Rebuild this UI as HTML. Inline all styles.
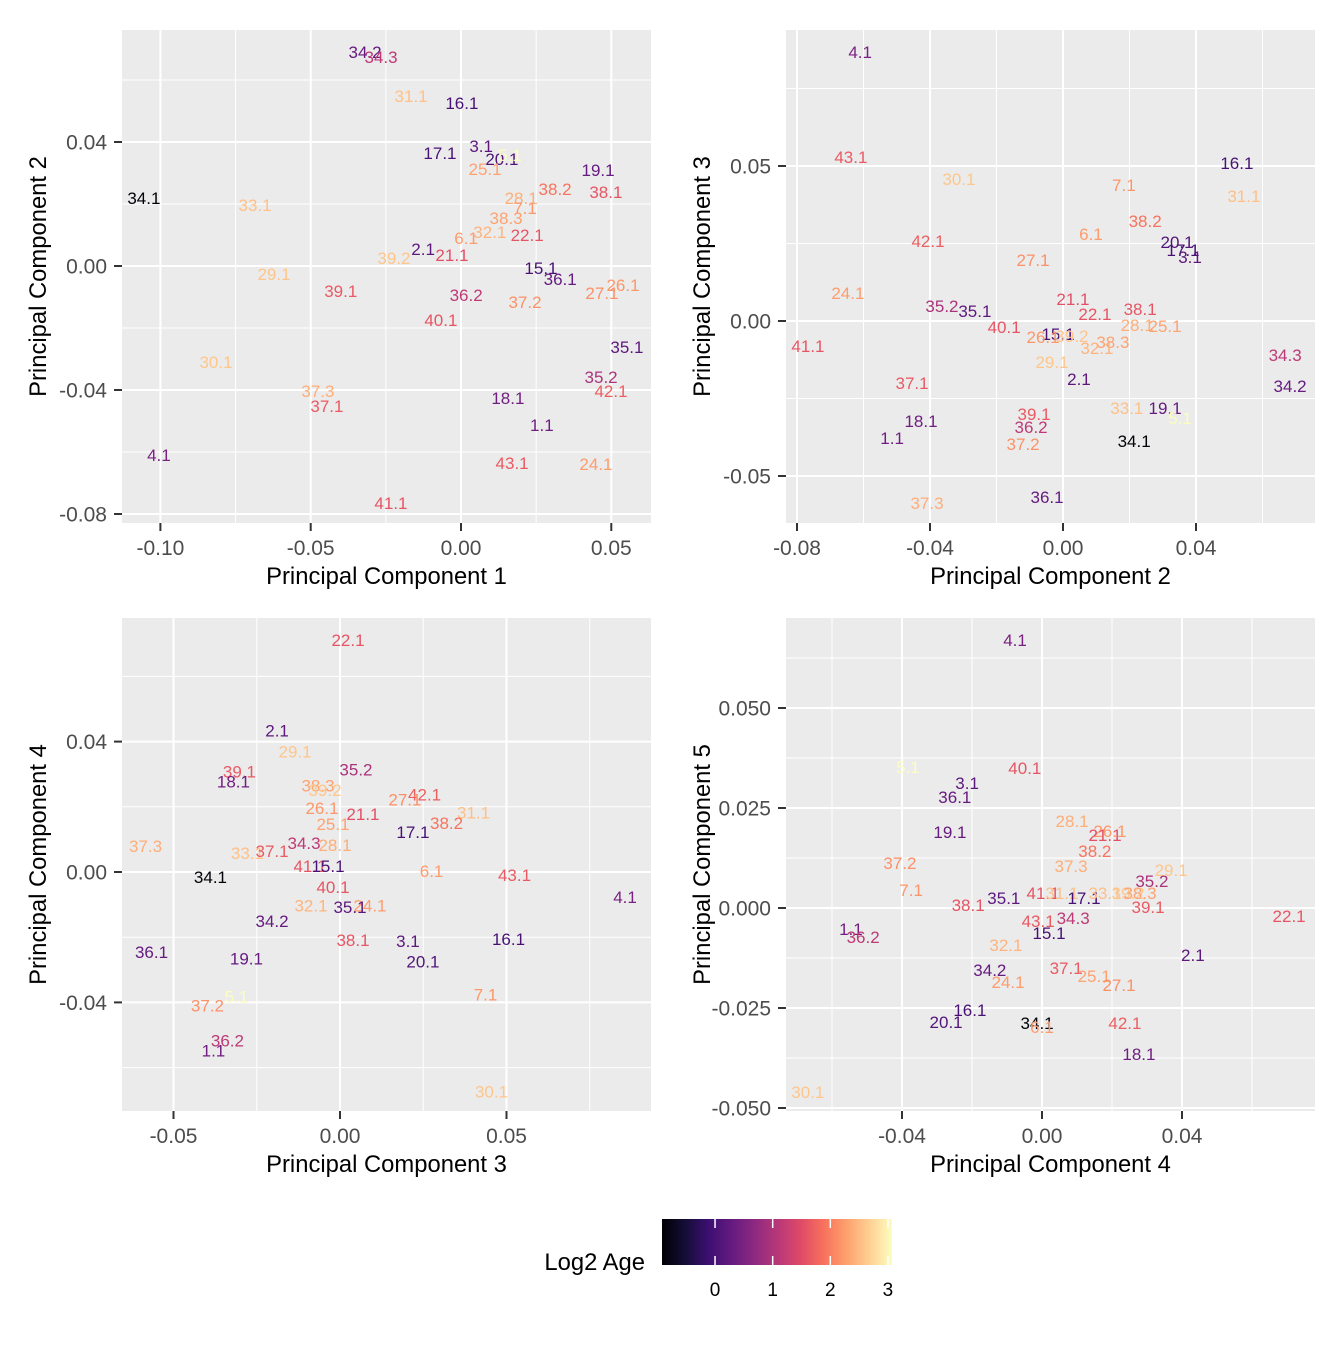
<!DOCTYPE html>
<html><head><meta charset="utf-8"><style>
body{margin:0;background:#fff;}
svg text{font-family:"Liberation Sans",Arial,sans-serif;}
</style></head><body>
<svg id="chart" width="1344" height="1344" xmlns="http://www.w3.org/2000/svg"></svg>
<script>
// ages (log2) per sample label
const ageLabels=["34.1","34.2","16.1","17.1","3.1","20.1","19.1","2.1","15.1","36.1","35.1","18.1","1.1","4.1","35.2","36.2","34.3","21.1","22.1","38.1","40.1","43.1","41.1","39.1","37.1","42.1","38.2","37.2","27.1","26.1","24.1","7.1","6.1","38.3","32.1","28.1","25.1","37.3","33.1","31.1","30.1","29.1","39.2","5.1"];
const ageValues=[-0.9,0.3,0.0,0.0,0.2,0.1,0.3,0.2,0.0,0.3,0.2,0.4,0.4,0.5,0.95,1.15,1.15,1.55,1.6,1.6,1.6,1.65,1.6,1.65,1.65,1.7,1.9,2.15,2.15,2.2,2.25,2.2,2.25,2.3,2.45,2.4,2.3,2.4,2.55,2.55,2.6,2.6,2.6,3.1];

// Panel 1: PC1 vs PC2
const p1Labels=["34.2","34.3","31.1","16.1","3.1","17.1","20.1","5.1","25.1","19.1","34.1","33.1","28.1","38.2","38.1","7.1","38.3","32.1","22.1","6.1","2.1","21.1","39.2","15.1","36.1","29.1","39.1","26.1","27.1","36.2","37.2","40.1","35.1","30.1","35.2","37.3","42.1","18.1","37.1","1.1","4.1","43.1","24.1","41.1"];
const p1X=[-0.0319,-0.0266,-0.0166,0.0003,0.0067,-0.007,0.0136,0.0163,0.008,0.0456,-0.1055,-0.0685,0.02,0.0313,0.0482,0.0213,0.015,0.0096,0.022,0.0017,-0.0126,-0.003,-0.0223,0.0266,0.033,-0.0622,-0.04,0.0539,0.0469,0.0017,0.0213,-0.0067,0.0552,-0.0815,0.0466,-0.0476,0.0499,0.0156,-0.0446,0.0269,-0.1005,0.017,0.0449,-0.0233];
const p1Y=[0.069,0.0674,0.0548,0.0526,0.0387,0.0365,0.0345,0.0358,0.0313,0.031,0.0219,0.0197,0.0219,0.0248,0.0239,0.0187,0.0155,0.011,0.01,0.009,0.0055,0.0035,0.0026,-0.0006,-0.0042,-0.0026,-0.0081,-0.0061,-0.0087,-0.0094,-0.0116,-0.0174,-0.0261,-0.031,-0.0358,-0.0403,-0.0403,-0.0426,-0.0452,-0.0513,-0.061,-0.0635,-0.0639,-0.0765];

// Panel 2: PC2 vs PC3
const p2Labels=["4.1","43.1","16.1","30.1","7.1","31.1","38.2","6.1","42.1","20.1","17.1","3.1","27.1","24.1","21.1","35.2","35.1","38.1","22.1","28.1","25.1","40.1","15.1","26.1","39.2","38.3","32.1","41.1","34.3","29.1","2.1","37.1","34.2","33.1","19.1","5.1","39.1","18.1","36.2","1.1","34.1","37.2","36.1","37.3"];
const p2X=[-0.061,-0.0638,0.0523,-0.0313,0.0183,0.0544,0.0247,0.0084,-0.0406,0.0343,0.0361,0.0382,-0.009,-0.0647,0.003,-0.0364,-0.0265,0.0232,0.0096,0.0223,0.0307,-0.0177,-0.0015,-0.006,0.0027,0.015,0.0102,-0.0767,0.0668,-0.0033,0.0048,-0.0454,0.0683,0.0192,0.0307,0.0352,-0.0087,-0.0427,-0.0096,-0.0514,0.0214,-0.012,-0.0048,-0.0409];
const p2Y=[0.0868,0.0529,0.051,0.0458,0.0439,0.0403,0.0323,0.0281,0.0258,0.0255,0.0229,0.0206,0.0197,0.009,0.0071,0.0048,0.0032,0.0039,0.0023,-0.0013,-0.0016,-0.0019,-0.0042,-0.0052,-0.0048,-0.0068,-0.0087,-0.0081,-0.011,-0.0132,-0.0187,-0.02,-0.021,-0.0281,-0.0281,-0.0313,-0.03,-0.0323,-0.0342,-0.0377,-0.0387,-0.0397,-0.0568,-0.0587];

// Panel 3: PC3 vs PC4
const p3Labels=["22.1","2.1","29.1","35.2","39.1","18.1","38.3","39.2","42.1","27.1","26.1","31.1","21.1","38.2","25.1","17.1","28.1","37.3","34.3","33.1","37.1","41.1","15.1","6.1","43.1","34.1","40.1","4.1","32.1","24.1","35.1","34.2","38.1","3.1","16.1","36.1","19.1","20.1","5.1","7.1","37.2","36.2","1.1","30.1"];
const p3X=[0.0024,-0.0189,-0.0135,0.0048,-0.0302,-0.032,-0.0066,-0.0045,0.0254,0.0195,-0.0054,0.0401,0.0069,0.032,-0.0021,0.0219,-0.0015,-0.0584,-0.0108,-0.0278,-0.0204,-0.009,-0.0036,0.0275,0.0524,-0.0389,-0.0021,0.0856,-0.0087,0.009,0.003,-0.0204,0.0039,0.0204,0.0506,-0.0566,-0.0281,0.0249,-0.0311,0.0437,-0.0398,-0.0338,-0.038,0.0455];
const p3Y=[0.0711,0.0434,0.0369,0.0314,0.0308,0.0277,0.0265,0.0252,0.0237,0.0222,0.0197,0.0182,0.0178,0.0151,0.0148,0.0123,0.0083,0.008,0.0089,0.0058,0.0065,0.0018,0.0018,0.0003,-0.0009,-0.0015,-0.0046,-0.0077,-0.0102,-0.0102,-0.0108,-0.0151,-0.0209,-0.0212,-0.0206,-0.0246,-0.0265,-0.0274,-0.0382,-0.0375,-0.0409,-0.0517,-0.0548,-0.0674];

// Panel 4: PC4 vs PC5
const p4Labels=["4.1","5.1","40.1","3.1","36.1","19.1","28.1","26.1","21.1","38.2","37.2","37.3","29.1","35.2","7.1","41.1","31.1","17.1","33.1","39.2","38.3","35.1","38.1","39.1","22.1","43.1","34.3","1.1","36.2","15.1","32.1","2.1","34.2","37.1","25.1","24.1","27.1","16.1","20.1","34.1","6.1","42.1","18.1","30.1"];
const p4X=[-0.0077,-0.0383,-0.0049,-0.0214,-0.0249,-0.0263,0.0086,0.0194,0.018,0.0151,-0.0406,0.0083,0.0369,0.0314,-0.0374,0.0003,0.0057,0.012,0.018,0.0246,0.028,-0.0109,-0.0211,0.0303,0.0706,-0.0011,0.0089,-0.0546,-0.0511,0.002,-0.0103,0.0431,-0.0149,0.0069,0.0149,-0.0097,0.022,-0.0206,-0.0274,-0.0014,0,0.0237,0.0277,-0.0669];
const p4Y=[0.067,0.0353,0.035,0.0313,0.0278,0.019,0.0218,0.0193,0.0183,0.0143,0.0113,0.0105,0.0095,0.0068,0.0045,0.0038,0.0038,0.0025,0.0038,0.0038,0.0038,0.0025,0.0008,0.0003,-0.002,-0.0033,-0.0025,-0.0053,-0.0073,-0.0063,-0.0093,-0.0118,-0.0155,-0.015,-0.017,-0.0185,-0.0193,-0.0255,-0.0285,-0.0288,-0.0298,-0.0288,-0.0365,-0.046];

const legendTicks=[0,1,2,3];

const NS="http://www.w3.org/2000/svg";
const svg=document.getElementById('chart');
function el(tag,attrs,parent){const e=document.createElementNS(NS,tag);for(const k in attrs)e.setAttribute(k,attrs[k]);(parent||svg).appendChild(e);return e;}
const magma=["#000004","#140e36","#3b0f70","#641a80","#8c2981","#b73779","#de4968","#f7705c","#fe9f6d","#fecf92","#fcfdbf"];
const AMIN=-0.92,AMAX=3.07;
function hex(h){return [1,3,5].map(i=>parseInt(h.substr(i,2),16));}
function magmaColor(t){t=Math.max(0,Math.min(1,t));const s=t*10,i=Math.min(9,Math.floor(s)),f=s-i;const a=hex(magma[i]),b=hex(magma[i+1]);return 'rgb('+a.map((v,k)=>Math.round(v+(b[k]-v)*f)).join(',')+')';}
function colorFor(lab){const i=ageLabels.indexOf(lab);const v=i<0?2:ageValues[i];return magmaColor((v-AMIN)/(AMAX-AMIN));}

const panels=[
 {L:122,T:30,R:651,B:523,x0:461,xs:3006,y0:266,ys:3100,xstep:0.05,ystep:0.04,xd:2,yd:2,xt:"Principal Component 1",yt:"Principal Component 2",lab:p1Labels,X:p1X,Y:p1Y},
 {L:786,T:30,R:1315,B:523,x0:1063,xs:3325,y0:321,ys:3100,xstep:0.04,ystep:0.05,xd:2,yd:2,xt:"Principal Component 2",yt:"Principal Component 3",lab:p2Labels,X:p2X,Y:p2Y},
 {L:122,T:618,R:651,B:1111,x0:340,xs:3330,y0:872,ys:3260,xstep:0.05,ystep:0.04,xd:2,yd:2,xt:"Principal Component 3",yt:"Principal Component 4",lab:p3Labels,X:p3X,Y:p3Y},
 {L:786,T:618,R:1315,B:1111,x0:1042,xs:3500,y0:908,ys:4000,xstep:0.04,ystep:0.025,xd:2,yd:3,xt:"Principal Component 4",yt:"Principal Component 5",lab:p4Labels,X:p4X,Y:p4Y}
];
panels.forEach((p,pi)=>{
 const g=el('g',{});
 
 
 const bg=el('rect',{x:p.L,y:p.T,width:p.R-p.L,height:p.B-p.T,fill:'#ebebeb'},g);
 
 
 const sx=v=>p.x0+v*p.xs, sy=v=>p.y0-v*p.ys;
 const xmin=(p.L-p.x0)/p.xs,xmax=(p.R-p.x0)/p.xs,ymin=(p.y0-p.B)/p.ys,ymax=(p.y0-p.T)/p.ys;
 for(let k=Math.ceil(xmin/p.xstep*2);k<=Math.floor(xmax/p.xstep*2);k++){
  const v=k*p.xstep/2,x=sx(v),maj=k%2===0;
  el('line',{x1:x,x2:x,y1:p.T,y2:p.B,stroke:'#fff','stroke-width':maj?2:1},g);
  if(maj){
   el('line',{x1:x,x2:x,y1:p.B,y2:p.B+8,stroke:'#333','stroke-width':2},g);
   const t=el('text',{x:x,y:p.B+32,'text-anchor':'middle','font-size':21,fill:'#4d4d4d'},g);
   t.textContent=(Math.abs(v)<1e-9?0:v).toFixed(p.xd);
   
   
  }
 }
 for(let k=Math.ceil(ymin/p.ystep*2);k<=Math.floor(ymax/p.ystep*2);k++){
  const v=k*p.ystep/2,y=sy(v),maj=k%2===0;
  el('line',{x1:p.L,x2:p.R,y1:y,y2:y,stroke:'#fff','stroke-width':maj?2:1},g);
  if(maj){
   el('line',{x1:p.L-8,x2:p.L,y1:y,y2:y,stroke:'#333','stroke-width':2},g);
   const t=el('text',{x:p.L-15,y:y+7.5,'text-anchor':'end','font-size':21,fill:'#4d4d4d'},g);
   t.textContent=(Math.abs(v)<1e-9?0:v).toFixed(p.yd);
   
   
  }
 }
 p.lab.forEach((lab,i)=>{
  const t=el('text',{x:sx(p.X[i]),y:sy(p.Y[i])+6,'text-anchor':'middle','font-size':17,fill:colorFor(lab)},g);
  t.textContent=lab;
  
  
 });
 const xt=el('text',{x:(p.L+p.R)/2,y:p.B+61,'text-anchor':'middle','font-size':23.8,fill:'#000'},g);
 xt.textContent=p.xt;
 
 
 const cy=(p.T+p.B)/2, cx=p.L-76;
 const yt=el('text',{x:cx,y:cy,'text-anchor':'middle','font-size':23.8,fill:'#000',transform:'rotate(-90 '+cx+' '+cy+')'},g);
 yt.textContent=p.yt;
 
 
});
// legend
const lg=el('g',{});


const defs=el('defs',{},lg);
const grad=el('linearGradient',{id:'mg',x1:0,x2:1,y1:0,y2:0},defs);
magma.forEach((c,i)=>el('stop',{offset:(i*10)+'%','stop-color':c},grad));
const LB0=662,LB1=892;
const bar=el('rect',{x:LB0,y:1219,width:LB1-LB0,height:46,fill:'url(#mg)'},lg);


const lt=el('text',{x:645,y:1270,'text-anchor':'end','font-size':23.8,fill:'#000'},lg);
lt.textContent='Log2 Age';


legendTicks.forEach(v=>{
 const x=LB0+(v-AMIN)/(AMAX-AMIN)*(LB1-LB0);
 el('line',{x1:x,x2:x,y1:1219,y2:1228,stroke:'#fff','stroke-width':1.5},lg);
 el('line',{x1:x,x2:x,y1:1256,y2:1265,stroke:'#fff','stroke-width':1.5},lg);
 const t=el('text',{x:x,y:1296,'text-anchor':'middle','font-size':19,fill:'#000'},lg);
 t.textContent=v;
 
 
});
</script>
</body></html>
